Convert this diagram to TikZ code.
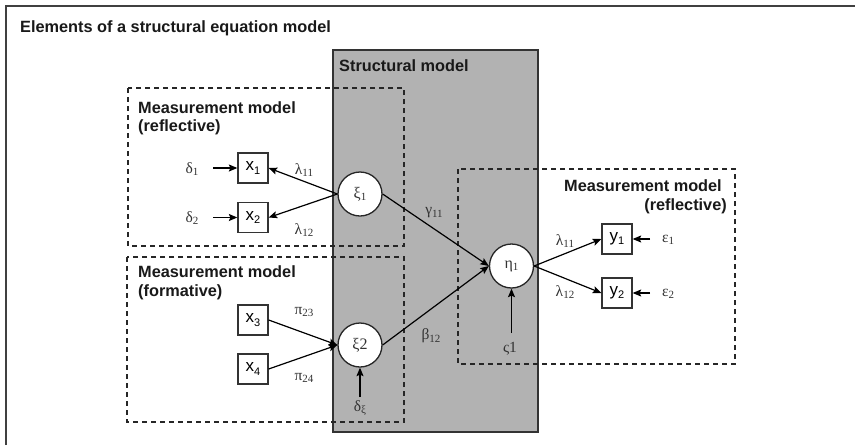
\documentclass[tikz,border=0pt]{standalone}
\usepackage{fontspec}
\setmainfont{Liberation Sans}
\newfontfamily\grk{Liberation Serif}
\usetikzlibrary{arrows.meta}
% letter with a lowered index, set in the current font
\newcommand{\idx}[2]{#1\raisebox{-0.35ex}{\fontsize{11}{11}\selectfont #2}}

\begin{document}
\begin{tikzpicture}[x=1pt,y=-1pt,
  heading/.style={font=\fontsize{16.3}{19}\selectfont\bfseries, inner sep=0pt, text=black!90},
  latent/.style={circle, draw=black!85, fill=white, line width=1.3pt,
    minimum size=44pt, inner sep=0pt, font=\grk\fontsize{16}{18}\selectfont, text=black!80},
  indicator/.style={rectangle, draw=black!80, fill=white, line width=1.3pt,
    minimum size=30pt, inner sep=0pt, font=\fontsize{17}{19}\selectfont},
  coef/.style={inner sep=0pt, font=\grk\fontsize{15.5}{17}\selectfont, text=black!80},
  link/.style={line width=1.2pt, draw=black, -{Stealth[length=8.5pt,width=7pt,inset=1.5pt]}},
  region/.style={draw=black!85, line width=1.3pt, dash pattern=on 5pt off 4pt}]

\useasboundingbox (0,0) rectangle (855,445);
\fill[white] (0,0) rectangle (855,445);

% outer frame
\draw[black!75, line width=2pt] (6,445) -- (6,6) -- (855,6);
\node[heading, anchor=base west] (title) at (20,32) {Elements of a structural equation model};

% structural part
\draw[black!80, fill={rgb,255:red,178;green,178;blue,178}, line width=1.4pt] (333,50) rectangle (538,432);
\node[heading, anchor=base west] (structural) at (339,71.5) {Structural model};

% measurement regions
\draw[region] (128,88) rectangle (404,246);
\draw[region] (127,257) rectangle (404,422);
\draw[region] (458,169) rectangle (735,364);

\node[heading, anchor=base west] (mrefl) at (138,113) {Measurement model};
\node[heading, anchor=base west] (mrefl2) at (138,131) {(reflective)};
\node[heading, anchor=base west] (mform) at (138,277) {Measurement model};
\node[heading, anchor=base west] (mform2) at (138,296) {(formative)};
\node[heading, anchor=base east] (mrefr) at (722,191) {Measurement model};
\node[heading, anchor=base east] (mrefr2) at (727,210) {(reflective)};

% latent variables
\node[latent] (xi1) at (360,194) {\idx{ξ}{1}};
\node[latent] (xi2) at (360,345) {ξ2};
\node[latent] (eta1) at (511.5,266) {\idx{η}{1}};

% indicators
\node[indicator] (x1) at (253,168) {\idx{x}{1}};
\node[indicator] (x2) at (253,217.5) {\idx{x}{2}};
\node[indicator] (x3) at (253,320) {\idx{x}{3}};
\node[indicator] (x4) at (253,369) {\idx{x}{4}};
\node[indicator] (y1) at (617,239) {\idx{y}{1}};
\node[indicator] (y2) at (617,293) {\idx{y}{2}};

% error terms
\node[coef] (d1) at (192,169) {\idx{δ}{1}};
\node[coef] (d2) at (192,218) {\idx{δ}{2}};
\node[coef] (dxi) at (360,408) {\idx{δ}{ξ}};
\node[coef] (zeta) at (510,349) {ς1};
\node[coef] (e1) at (668,240) {\idx{ε}{1}};
\node[coef] (e2) at (668,294) {\idx{ε}{2}};

% free ends of the error arrows
\coordinate (d1s) at (213,168);
\coordinate (d2s) at (213,217.5);
\coordinate (dxis) at (360,397);
\coordinate (zetas) at (511.5,333);
\coordinate (e1s) at (650,239);
\coordinate (e2s) at (650,293);

% paths
\draw[link] (d1s) -- (x1);
\draw[link] (d2s) -- (x2);
\draw[link] (xi1.west) -- (x1.east);
\draw[link] (xi1.west) -- (x2.east);
\draw[link] (x3.east) -- (xi2.west);
\draw[link] (x4.east) -- (xi2.west);
\draw[link] (dxis) -- (xi2.south);
\draw[link] (xi1.east) -- (eta1.west);
\draw[link] (xi2.east) -- (eta1.west);
\draw[link] (zetas) -- (eta1.south);
\draw[link] (eta1.east) -- (y1.west);
\draw[link] (eta1.east) -- (y2.west);
\draw[link] (e1s) -- (y1.east);
\draw[link] (e2s) -- (y2.east);

% coefficients
\node[coef] (l11) at (304,170) {\idx{λ}{11}};
\node[coef] (l12) at (304,230) {\idx{λ}{12}};
\node[coef] (p23) at (304,312) {\idx{π}{23}};
\node[coef] (p24) at (304,378) {\idx{π}{24}};
\node[coef] (g11) at (434,213) {\idx{γ}{11}};
\node[coef] (b12) at (431,336) {\idx{β}{12}};
\node[coef] (l11r) at (565,241) {\idx{λ}{11}};
\node[coef] (l12r) at (565,292) {\idx{λ}{12}};
\end{tikzpicture}
\end{document}
